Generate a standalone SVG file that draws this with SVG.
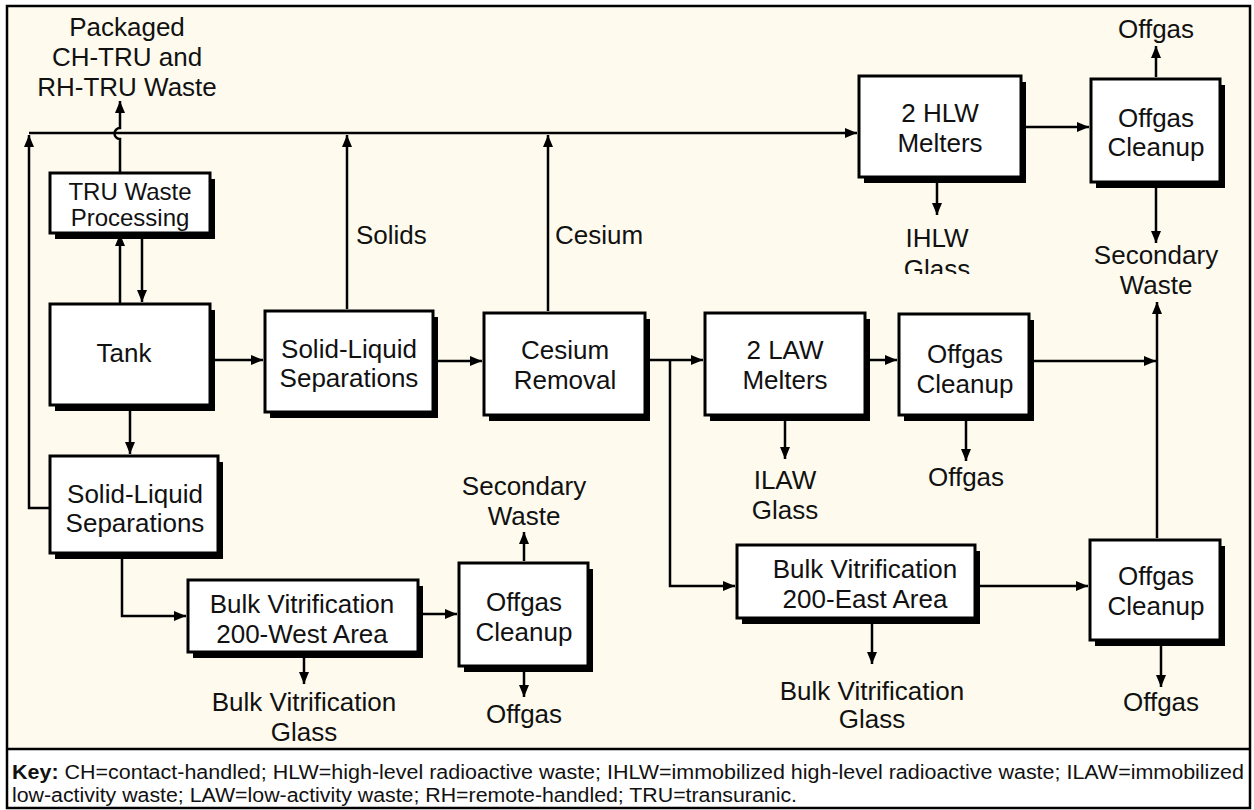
<svg xmlns="http://www.w3.org/2000/svg" width="1254" height="810" viewBox="0 0 1254 810">
<style>
.t{font-family:"Liberation Sans",Arial,sans-serif;font-size:26px;fill:#111;text-anchor:middle}
.s{font-size:24px}
.l{font-family:"Liberation Sans",Arial,sans-serif;font-size:26px;fill:#111}
.box{fill:#fff;stroke:#000;stroke-width:3}
.sh{fill:#000}
.c{fill:none;stroke:#000;stroke-width:2.5}
.a{marker-end:url(#ah)}
.k{font-family:"Liberation Sans",Arial,sans-serif;font-size:20px;fill:#111}
</style>
<defs>
<marker id="ah" markerUnits="userSpaceOnUse" markerWidth="13" markerHeight="10" refX="12" refY="5" orient="auto">
<path d="M0,0 L12,5 L0,10 z" fill="#000"/>
</marker>
<clipPath id="clipG"><rect x="880" y="220" width="120" height="54"/></clipPath>
</defs>
<rect x="0" y="0" width="1254" height="810" fill="#fff"/>
<rect x="7" y="6" width="1243" height="743" fill="#FEFBEE"/>
<rect x="7" y="6" width="1243" height="802" fill="none" stroke="#000" stroke-width="2.5"/>
<line x1="7" y1="749" x2="1250" y2="749" stroke="#000" stroke-width="2.5"/>

<g id="connectors">
<path class="c a" d="M120,173 V139 A5,5 0 0 1 120,128 V101"/>
<path class="c a" d="M120,304 V234"/>
<path class="c a" d="M142,239 V302"/>
<path class="c a" d="M213,360 H263"/>
<path class="c a" d="M130,411 V454"/>
<path class="c a" d="M438,361 H482"/>
<path class="c a" d="M648,360 H703"/>
<path class="c a" d="M670,360 V586 H735"/>
<path class="c a" d="M868,360 H897"/>
<path class="c a" d="M1032,361 H1156"/>
<path class="c a" d="M1157,538 V302"/>
<path class="c a" d="M1156,188 V243"/>
<path class="c a" d="M1156,77 V46"/>
<path class="c a" d="M1024,127 H1089"/>
<path class="c a" d="M937,183 V215"/>
<path class="c a" d="M785,421 V459"/>
<path class="c a" d="M966,421 V461"/>
<path class="c a" d="M978,586 H1088"/>
<path class="c a" d="M872,624 V664"/>
<path class="c a" d="M1161,646 V687"/>
<path class="c a" d="M122,559 V616 H186"/>
<path class="c a" d="M421,614 H457"/>
<path class="c a" d="M304,658 V684"/>
<path class="c a" d="M524,561 V532"/>
<path class="c a" d="M524,672 V697"/>
<path class="c a" d="M50,508 H29 V135"/>
<path class="c a" d="M29,133 H857"/>
<path class="c a" d="M347,309 V135"/>
<path class="c a" d="M548,311 V135"/>
</g>

<g id="labels">
<text class="t" x="127" y="36">Packaged</text>
<text class="t" x="127" y="66">CH-TRU and</text>
<text class="t" x="127" y="96">RH-TRU Waste</text>
<text class="l" x="356" y="244">Solids</text>
<text class="l" x="555" y="244">Cesium</text>
<text class="t" x="1156" y="38">Offgas</text>
<text class="t" x="937" y="247">IHLW</text>
<text class="t" x="937" y="278" clip-path="url(#clipG)">Glass</text>
<text class="t" x="1156" y="264">Secondary</text>
<text class="t" x="1156" y="294">Waste</text>
<text class="t" x="785" y="489">ILAW</text>
<text class="t" x="785" y="519">Glass</text>
<text class="t" x="966" y="486">Offgas</text>
<text class="t" x="872" y="700">Bulk Vitrification</text>
<text class="t" x="872" y="728">Glass</text>
<text class="t" x="1161" y="711">Offgas</text>
<text class="t" x="304" y="711">Bulk Vitrification</text>
<text class="t" x="304" y="741">Glass</text>
<text class="t" x="524" y="495">Secondary</text>
<text class="t" x="524" y="525">Waste</text>
<text class="t" x="524" y="723">Offgas</text>
</g>

<g id="tru">
<rect class="sh" x="55" y="179" width="160" height="60"/>
<rect class="box" x="50" y="173" width="160" height="60"/>
<text class="t s" x="130" y="200">TRU Waste</text>
<text class="t s" x="130" y="226">Processing</text>
</g>
<g id="tank">
<rect class="sh" x="55" y="310" width="160" height="101"/>
<rect class="box" x="50" y="304" width="160" height="101"/>
<text class="t" x="124" y="362">Tank</text>
</g>
<g id="sls1">
<rect class="sh" x="270" y="317" width="168" height="101"/>
<rect class="box" x="265" y="311" width="168" height="101"/>
<text class="t" x="349" y="358">Solid-Liquid</text>
<text class="t" x="349" y="387">Separations</text>
</g>
<g id="sls2">
<rect class="sh" x="55" y="462" width="168" height="97"/>
<rect class="box" x="50" y="456" width="168" height="97"/>
<text class="t" x="135" y="503">Solid-Liquid</text>
<text class="t" x="135" y="532">Separations</text>
</g>
<g id="cesium">
<rect class="sh" x="489" y="319" width="161" height="102"/>
<rect class="box" x="484" y="313" width="161" height="102"/>
<text class="t" x="565" y="359">Cesium</text>
<text class="t" x="565" y="389">Removal</text>
</g>
<g id="law">
<rect class="sh" x="710" y="319" width="160" height="102"/>
<rect class="box" x="705" y="313" width="160" height="102"/>
<text class="t" x="785" y="359">2 LAW</text>
<text class="t" x="785" y="389">Melters</text>
</g>
<g id="offgas-law">
<rect class="sh" x="904" y="320" width="130" height="101"/>
<rect class="box" x="899" y="314" width="130" height="101"/>
<text class="t" x="965" y="363">Offgas</text>
<text class="t" x="965" y="393">Cleanup</text>
</g>
<g id="hlw">
<rect class="sh" x="864" y="82" width="162" height="101"/>
<rect class="box" x="859" y="76" width="162" height="101"/>
<text class="t" x="940" y="122">2 HLW</text>
<text class="t" x="940" y="152">Melters</text>
</g>
<g id="offgas-hlw">
<rect class="sh" x="1096" y="85" width="129" height="103"/>
<rect class="box" x="1091" y="79" width="129" height="103"/>
<text class="t" x="1156" y="127">Offgas</text>
<text class="t" x="1156" y="156">Cleanup</text>
</g>
<g id="bv-east">
<rect class="sh" x="742" y="551" width="238" height="73"/>
<rect class="box" x="737" y="545" width="238" height="73"/>
<text class="t" x="865" y="578">Bulk Vitrification</text>
<text class="t" x="865" y="608">200-East Area</text>
</g>
<g id="offgas-east">
<rect class="sh" x="1095" y="546" width="130" height="100"/>
<rect class="box" x="1090" y="540" width="130" height="100"/>
<text class="t" x="1156" y="585">Offgas</text>
<text class="t" x="1156" y="615">Cleanup</text>
</g>
<g id="bv-west">
<rect class="sh" x="193" y="586" width="230" height="72"/>
<rect class="box" x="188" y="580" width="230" height="72"/>
<text class="t" x="302" y="613">Bulk Vitrification</text>
<text class="t" x="302" y="643">200-West Area</text>
</g>
<g id="offgas-west">
<rect class="sh" x="464" y="569" width="129" height="103"/>
<rect class="box" x="459" y="563" width="129" height="103"/>
<text class="t" x="524" y="611">Offgas</text>
<text class="t" x="524" y="641">Cleanup</text>
</g>

<g id="key">
<text class="k" x="12" y="779" textLength="1232" lengthAdjust="spacingAndGlyphs"><tspan font-weight="bold">Key:</tspan> CH=contact-handled; HLW=high-level radioactive waste; IHLW=immobilized high-level radioactive waste; ILAW=immobilized</text>
<text class="k" x="12" y="802" textLength="785" lengthAdjust="spacingAndGlyphs">low-activity waste; LAW=low-activity waste; RH=remote-handled; TRU=transuranic.</text>
</g>
</svg>
